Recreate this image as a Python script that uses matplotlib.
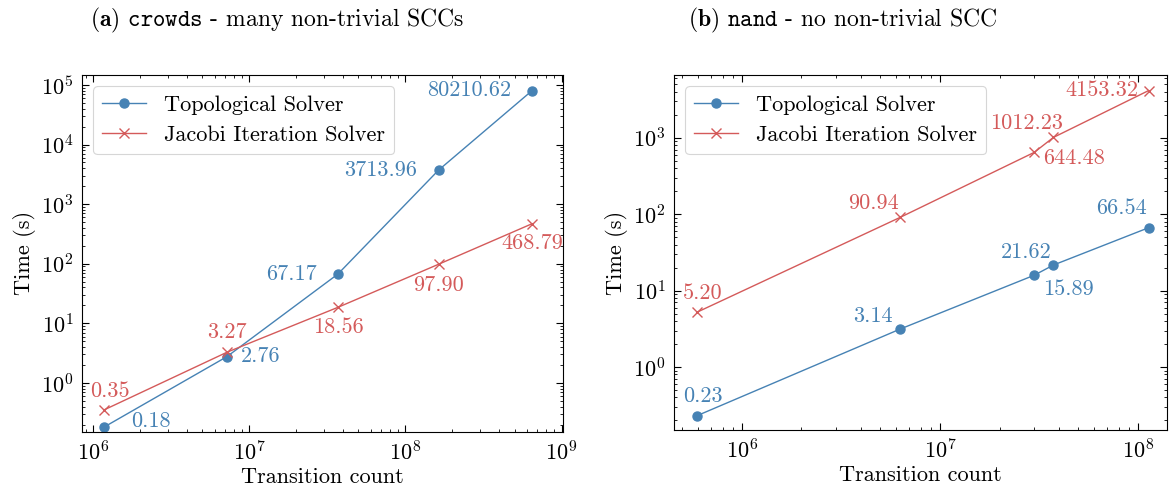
import matplotlib
matplotlib.use("Agg")
import matplotlib.pyplot as plt

# crowds benchmark
crowds_transitions = [1.17e6, 7.2e6, 3.7e7, 1.63e8, 6.47e8]
crowds_topo = [0.18, 2.76, 67.17, 3713.96, 80210.62]
crowds_jacobi = [0.35, 3.27, 18.56, 97.90, 468.79]

# nand benchmark
nand_transitions = [5.93e5, 6.3e6, 2.99e7, 3.74e7, 1.13e8]
nand_topo = [0.23, 3.14, 15.89, 21.62, 66.54]
nand_jacobi = [5.20, 90.94, 644.48, 1012.23, 4153.32]

BLUE = "#4682b4"
RED = "#d45a5a"

plt.rcParams["font.family"] = ["cmr10"]
plt.rcParams["mathtext.fontset"] = "cm"
plt.rcParams["axes.formatter.use_mathtext"] = True
plt.rcParams["font.size"] = 16
plt.rcParams["axes.unicode_minus"] = False

# label offsets in pixels (dx, dy), dy positive = down, plus horizontal alignment
crowds_topo_offsets = [((27, -6), "left"), ((14, 0), "left"), ((-21, 0), "right"),
                       ((-21, 0), "right"), ((-21, 0), "right")]
crowds_jacobi_offsets = [((6, -19), "center"), ((0, -20), "center"), ((0, 20), "center"),
                         ((0, 21), "center"), ((0, 20), "center")]
nand_topo_offsets = [((6, -20), "center"), ((-27, -13), "center"), ((34, 14), "center"),
                     ((-27, -13), "center"), ((-27, -19), "center")]
nand_jacobi_offsets = [((6, -19), "center"), ((-27, -14), "center"), ((40, 6), "center"),
                       ((-27, -14), "center"), ((-10, 0), "right")]


def label_points(ax, xs, ys, offsets, color):
    for x, y, ((dx, dy), ha) in zip(xs, ys, offsets):
        ax.annotate(f"{y:.2f}", (x, y), xytext=(dx / 1.3889, -dy / 1.3889),
                    textcoords="offset points", ha=ha, va="center",
                    color=color, fontsize=16)


def style_axes(ax):
    ax.set_xscale("log")
    ax.set_yscale("log")
    ax.tick_params(which="both", direction="in", top=True, right=True, labelsize=16)
    ax.tick_params(which="major", length=5, width=0.8, pad=6)
    ax.tick_params(which="minor", length=2.5, width=0.6)
    ax.set_xlabel("Transition count", fontsize=16, labelpad=2)
    ax.set_ylabel("Time (s)", fontsize=16, labelpad=4)
    leg = ax.legend(loc="upper left", fontsize=16, fancybox=True,
                    edgecolor="#cccccc", framealpha=0.8)
    leg.get_frame().set_linewidth(0.8)


fig = plt.figure(figsize=(11.73, 4.88), dpi=100)
ax1 = fig.add_axes([0.0699, 0.1154, 0.410, 0.731])
ax2 = fig.add_axes([0.5746, 0.1189, 0.4203, 0.7275])

ax1.plot(crowds_transitions, crowds_topo, color=BLUE, marker="o", ms=6.5, lw=1.0,
         label="Topological Solver")
ax1.plot(crowds_transitions, crowds_jacobi, color=RED, marker="x", ms=7, mew=1.0, lw=1.0,
         label="Jacobi Iteration Solver")
label_points(ax1, crowds_transitions, crowds_topo, crowds_topo_offsets, BLUE)
label_points(ax1, crowds_transitions, crowds_jacobi, crowds_jacobi_offsets, RED)
style_axes(ax1)
ax1.set_xlim(8.5e5, 1.02e9)
ax1.set_ylim(0.152, 1.47e5)

ax2.plot(nand_transitions, nand_topo, color=BLUE, marker="o", ms=6.5, lw=1.0,
         label="Topological Solver")
ax2.plot(nand_transitions, nand_jacobi, color=RED, marker="x", ms=7, mew=1.0, lw=1.0,
         label="Jacobi Iteration Solver")
label_points(ax2, nand_transitions, nand_topo, nand_topo_offsets, BLUE)
label_points(ax2, nand_transitions, nand_jacobi, nand_jacobi_offsets, RED)
style_axes(ax2)
ax2.set_xlim(4.55e5, 1.4e8)
ax2.set_ylim(0.15, 6650)

fig.text(277 / 1173, 1 - 20 / 488, r"$\mathbf{(a)}$ $\mathtt{crowds}$ - many non-trivial SCCs",
         ha="center", va="center", fontsize=17)
fig.text(843 / 1173, 1 - 20 / 488, r"$\mathbf{(b)}$ $\mathtt{nand}$ - no non-trivial SCC",
         ha="center", va="center", fontsize=17)

fig.savefig("out.png", dpi=100)
